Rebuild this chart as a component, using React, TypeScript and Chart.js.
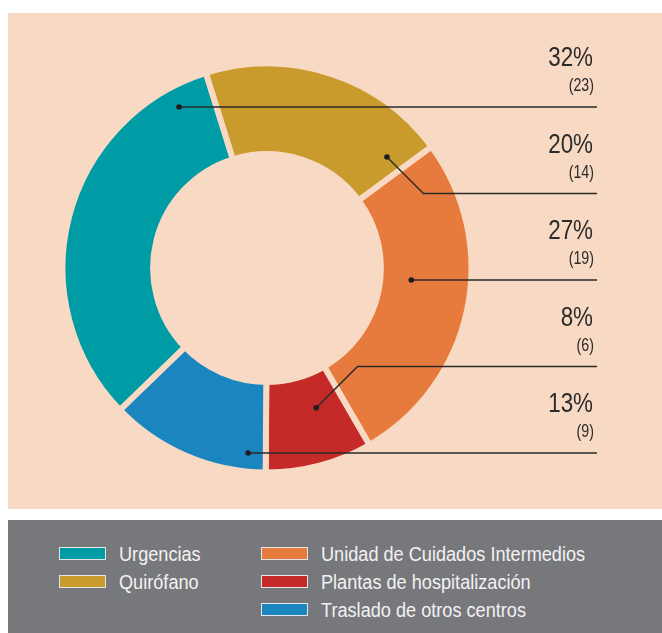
import { useEffect, useRef } from "react";
import { Chart, registerables } from "chart.js";

Chart.register(...registerables);

const categories = [
  "Urgencias",
  "Quirófano",
  "Unidad de Cuidados Intermedios",
  "Plantas de hospitalización",
  "Traslado de otros centros",
];
const counts = [23, 14, 19, 6, 9];
const percentLabels = ["32%", "20%", "27%", "8%", "13%"];
const countLabels = ["(23)", "(14)", "(19)", "(6)", "(9)"];
const colors = ["#009CA6", "#C99A2C", "#E67B3D", "#C32A28", "#1B85C0"];

// leader-line styling: where the dot sits inside each slice (fraction along arc, fraction across ring)
const leaderArcFrac = [0.9, 0.91, 0.43, 0.35, 0.12];
const leaderRadialFrac = [0.76, 0.55, 0.33, 0.37, 0.81];

const PEACH = "#F8D9C3";
const GRAY = "#77787C";
const BW = 6;
const FONT = '"Liberation Sans", Arial, sans-serif';

const leaderPlugin = {
  id: "leaders",
  afterDatasetsDraw(chart: any) {
    const ctx = chart.ctx;
    const meta = chart.getDatasetMeta(0);
    ctx.save();
    meta.data.forEach((arc: any, i: number) => {
      const p = arc.getProps(["x", "y", "startAngle", "endAngle", "innerRadius", "outerRadius"], true);
      const a = p.startAngle + leaderArcFrac[i] * (p.endAngle - p.startAngle);
      const rIn = p.innerRadius + BW / 2;
      const rOut = p.outerRadius - BW / 2;
      const r = rIn + leaderRadialFrac[i] * (rOut - rIn);
      let dx = p.x + r * Math.cos(a);
      let dy = p.y + r * Math.sin(a);
      const lineY = p.y + 12 + (i - 2) * 86.5;
      const endX = p.x + 330;
      ctx.strokeStyle = "#2A2A2A";
      ctx.fillStyle = "#1E1E1E";
      ctx.lineWidth = 1.4;
      ctx.beginPath();
      if (Math.abs(dy - lineY) < 5) {
        dy = lineY;
        ctx.moveTo(dx, dy);
      } else {
        const d = Math.abs(lineY - dy);
        ctx.moveTo(dx, dy);
        ctx.lineTo(dx + d, lineY);
      }
      ctx.lineTo(endX, lineY);
      ctx.stroke();
      ctx.beginPath();
      ctx.arc(dx, dy, 2.8, 0, Math.PI * 2);
      ctx.fill();

      const tx = p.x + 326;
      ctx.fillStyle = "#2B2B2B";
      ctx.textAlign = "right";
      ctx.textBaseline = "alphabetic";

      ctx.save();
      ctx.translate(tx, lineY - 41);
      ctx.scale(0.8, 1);
      ctx.font = `28px ${FONT}`;
      ctx.fillText(percentLabels[i], 0, 0);
      ctx.restore();

      ctx.save();
      ctx.translate(tx + 1, lineY - 16);
      ctx.scale(0.79, 1);
      ctx.font = `18px ${FONT}`;
      ctx.fillText(countLabels[i], 0, 0);
      ctx.restore();
    });
    ctx.restore();
  },
};

export default function App() {
  const ref = useRef<HTMLCanvasElement>(null);
  useEffect(() => {
    if (!ref.current) return;
    const chart = new Chart(ref.current, {
      type: "doughnut",
      data: {
        labels: categories,
        datasets: [
          {
            data: counts,
            backgroundColor: colors,
            borderColor: PEACH,
            borderWidth: BW,
            hoverOffset: 0,
          },
        ],
      },
      options: {
        animation: false,
        responsive: false,
        rotation: 226,
        cutout: "55.7%",
        layout: { padding: { left: 51.5, top: 47.5, right: 187.5, bottom: 33.5 } },
        plugins: { legend: { display: false }, tooltip: { enabled: false } },
      },
      plugins: [leaderPlugin],
    });
    return () => chart.destroy();
  }, []);

  const legendItems = [
    { i: 0, left: 51, row: 0 },
    { i: 1, left: 51, row: 1 },
    { i: 2, left: 253, row: 0 },
    { i: 3, left: 253, row: 1 },
    { i: 4, left: 253, row: 2 },
  ];

  return (
    <div
      style={{
        position: "fixed",
        left: 0,
        top: 0,
        width: 662,
        height: 633,
        overflow: "hidden",
        background: "#FFFFFF",
      }}
    >
      <div style={{ position: "absolute", left: 8, top: 13, width: 654, height: 496, background: PEACH }}>
        <canvas ref={ref} width={654} height={496} style={{ display: "block" }} />
      </div>
      <div style={{ position: "absolute", left: 8, top: 520, width: 654, height: 113, background: GRAY }}>
        {legendItems.map(({ i, left, row }) => (
          <div key={i}>
            <div
              style={{
                position: "absolute",
                left,
                top: 27 + row * 28,
                width: 47,
                height: 13,
                boxSizing: "border-box",
                border: "1.5px solid #E6E6E6",
                background: colors[i],
              }}
            />
            <div
              style={{
                position: "absolute",
                left: left + 60,
                top: 24 + row * 28,
                fontFamily: FONT,
                fontSize: 19.5,
                lineHeight: "20px",
                color: "#F2F2F2",
                whiteSpace: "nowrap",
                transform: "scaleX(0.93)",
                transformOrigin: "0 0",
              }}
            >
              {categories[i]}
            </div>
          </div>
        ))}
      </div>
    </div>
  );
}
